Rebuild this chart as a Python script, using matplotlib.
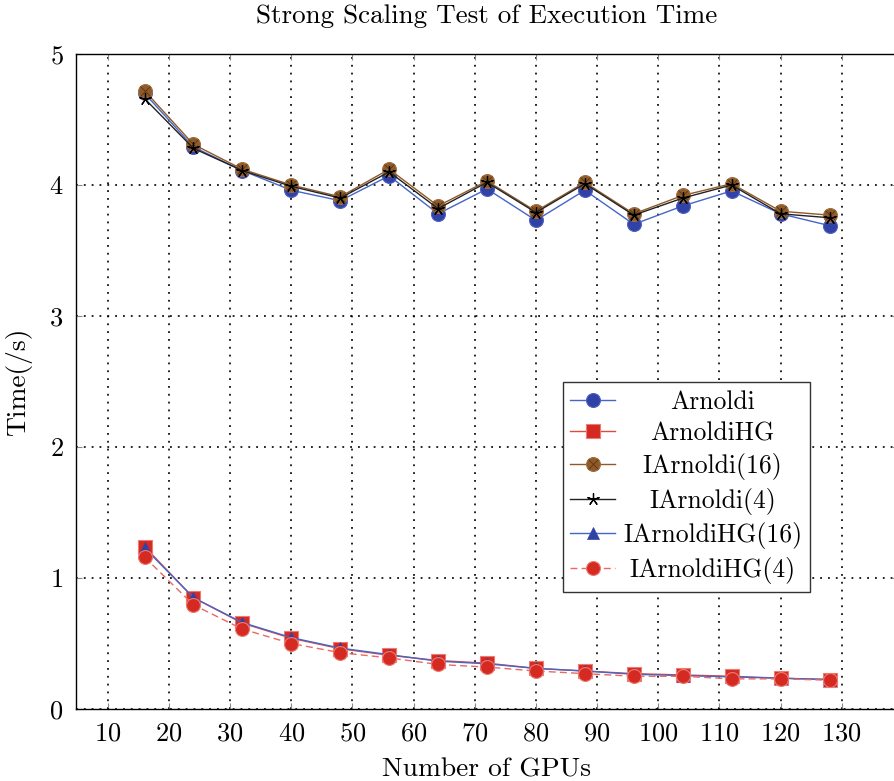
"""Strong scaling plot: execution time vs. number of GPUs."""
import matplotlib
matplotlib.use("Agg")
import matplotlib.pyplot as plt
from matplotlib.legend_handler import HandlerTuple

plt.rcParams.update({
    "font.family": "cmr10",
    "axes.formatter.use_mathtext": True,
    "font.size": 19,
    "mathtext.fontset": "cm",
})

gpus = [16, 24, 32, 40, 48, 56, 64, 72, 80, 88, 96, 104, 112, 120, 128]

arnoldi = [4.70, 4.29, 4.11, 3.96, 3.88, 4.07, 3.78, 3.97, 3.73, 3.96, 3.70, 3.84, 3.955, 3.78, 3.69]
arnoldi_hg = [1.24, 0.85, 0.655, 0.54, 0.46, 0.41, 0.37, 0.35, 0.31, 0.29, 0.27, 0.26, 0.25, 0.235, 0.225]
iarnoldi_16 = [4.72, 4.31, 4.12, 4.00, 3.91, 4.12, 3.84, 4.03, 3.80, 4.02, 3.78, 3.92, 4.01, 3.80, 3.77]
iarnoldi_4 = [4.66, 4.28, 4.11, 3.99, 3.90, 4.10, 3.82, 4.02, 3.79, 4.01, 3.77, 3.90, 4.00, 3.78, 3.75]
iarnoldi_hg_16 = [1.23, 0.85, 0.66, 0.545, 0.465, 0.415, 0.365, 0.345, 0.31, 0.29, 0.265, 0.255, 0.245, 0.235, 0.225]
iarnoldi_hg_4 = [1.16, 0.795, 0.61, 0.50, 0.43, 0.39, 0.34, 0.32, 0.29, 0.27, 0.25, 0.25, 0.23, 0.23, 0.22]

labels = ["Arnoldi", "ArnoldiHG", "IArnoldi(16)", "IArnoldi(4)", "IArnoldiHG(16)", "IArnoldiHG(4)"]

BLUE = "#3142a6"
BLUE_LINE = "#4565c8"
RED = "#d42a22"
RED_LINE = "#e04a40"
BROWN = "#8f5a2a"

fig = plt.figure(figsize=(8.95, 7.81), dpi=100)
ax = fig.add_axes([76 / 895, 72 / 781, 822 / 895, 655 / 781])

h1, = ax.plot(gpus, arnoldi, color=BLUE_LINE, lw=1.0, marker="o", ms=10,
              mfc=BLUE, mec="#5060c0", mew=0.8)
h2, = ax.plot(gpus, arnoldi_hg, color=RED_LINE, lw=1.0, marker="s", ms=10,
              mfc=RED, mec="#ee7a72", mew=0.8)
h3a, = ax.plot(gpus, iarnoldi_16, color=BROWN, lw=1.0, marker="o", ms=10,
               mfc=BROWN, mec="#a07040", mew=0.8)
h3b, = ax.plot(gpus, iarnoldi_16, ls="none", marker="x", ms=7,
               mec="#5a3510", mew=0.6)
h4, = ax.plot(gpus, iarnoldi_4, color="#222222", lw=1.0, marker=(5, 2, 0), ms=9,
              mec="black", mew=0.9)
h5, = ax.plot(gpus, iarnoldi_hg_16, color=BLUE_LINE, lw=1.0, marker="^", ms=8,
              mfc=BLUE, mec=BLUE, mew=0.5)
h6, = ax.plot(gpus, iarnoldi_hg_4, color="#e86a62", lw=1.0, ls=(0, (5, 3)), marker="o", ms=10,
              mfc=RED, mec="#ee7a72", mew=0.8)

ax.set_xlim(4.8, 139.2)
ax.set_ylim(0, 5)
ax.set_xticks(range(10, 131, 10))
ax.set_yticks(range(0, 6))

ax.grid(True, color="black", lw=1.2, ls=(0, (1.1, 3.6)))
ax.set_axisbelow(True)
for side in ("left", "top", "bottom"):
    ax.spines[side].set_linewidth(1.0)
ax.spines["right"].set_visible(False)
ax.tick_params(direction="in", length=4, width=0.8, color="#888888",
               top=True, right=True, pad=9, labelsize=19)

ax.set_title("Strong Scaling Test of Execution Time", fontsize=19.5, pad=22)
ax.set_xlabel("Number of GPUs", fontsize=19.8, labelpad=9)
ax.set_ylabel("Time(/s)", fontsize=19.8, labelpad=12)

leg = ax.legend([h1, h2, (h3a, h3b), h4, h5, h6], labels,
                handler_map={tuple: HandlerTuple(ndivide=1)},
                loc="lower left", bbox_to_anchor=(0.592, 0.179), borderaxespad=0,
                fancybox=False, framealpha=1, edgecolor="#333333",
                fontsize=18.5, handlelength=1.75, handletextpad=0.3,
                labelspacing=0.3, borderpad=0.3)
leg.get_frame().set_linewidth(1.0)

# center the entry texts inside the legend column
fig.canvas.draw()
renderer = fig.canvas.get_renderer()
texts = leg.get_texts()
widths = [t.get_window_extent(renderer).width for t in texts]
wmax = max(widths)
for t, w in zip(texts, widths):
    t.set_x((wmax - w) / 2)

fig.savefig("out.png", dpi=100)
